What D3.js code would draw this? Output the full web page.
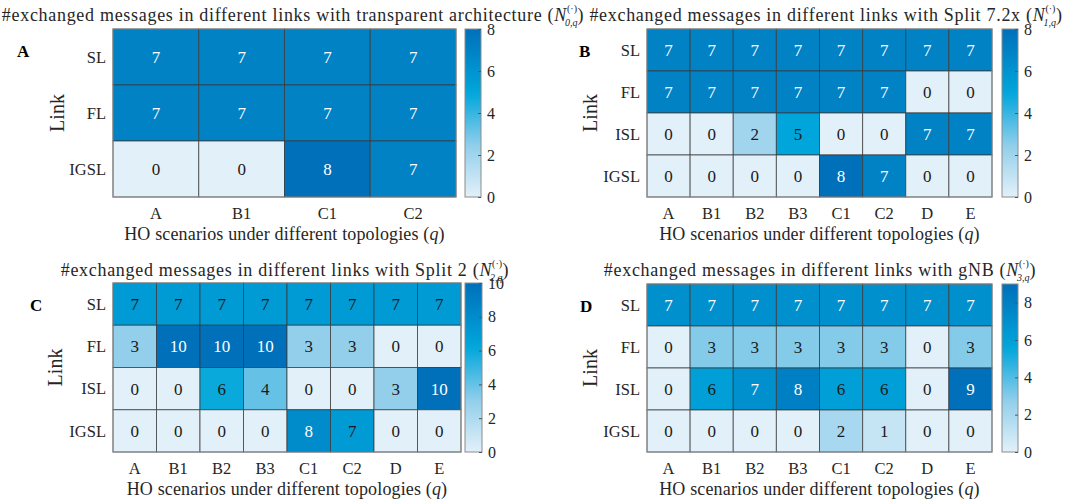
<!DOCTYPE html>
<html>
<head>
<meta charset="utf-8">
<script src="https://cdn.jsdelivr.net/npm/d3@7"></script>
<style>
  body { margin: 0; background: #fff; }
  text { font-family: "Liberation Serif", "DejaVu Serif", serif; fill: #262626; }
</style>
</head>
<body>
<div id="chart"></div>
<script>
// data
const rowsA = ['SL', 'FL', 'IGSL'];
const colsA = ['A', 'B1', 'C1', 'C2'];
const valuesA = [
  [7, 7, 7, 7],
  [7, 7, 7, 7],
  [0, 0, 8, 7]
];

const rowsFull = ['SL', 'FL', 'ISL', 'IGSL'];
const colsFull = ['A', 'B1', 'B2', 'B3', 'C1', 'C2', 'D', 'E'];

const valuesB = [
  [7, 7, 7, 7, 7, 7, 7, 7],
  [7, 7, 7, 7, 7, 7, 0, 0],
  [0, 0, 2, 5, 0, 0, 7, 7],
  [0, 0, 0, 0, 8, 7, 0, 0]
];
const valuesC = [
  [7, 7, 7, 7, 7, 7, 7, 7],
  [3, 10, 10, 10, 3, 3, 0, 0],
  [0, 0, 6, 4, 0, 0, 3, 10],
  [0, 0, 0, 0, 8, 7, 0, 0]
];
const valuesD = [
  [7, 7, 7, 7, 7, 7, 7, 7],
  [0, 3, 3, 3, 3, 3, 0, 3],
  [0, 6, 7, 8, 6, 6, 0, 9],
  [0, 0, 0, 0, 2, 1, 0, 0]
];

const ticksA = [0, 2, 4, 6, 8];
const ticksB = [0, 2, 4, 6, 8];
const ticksC = [0, 2, 4, 6, 8, 10];
const ticksD = [0, 2, 4, 6, 8];

const titleA = '#exchanged messages in different links with transparent architecture';
const titleB = '#exchanged messages in different links with Split 7.2x';
const titleC = '#exchanged messages in different links with Split 2';
const titleD = '#exchanged messages in different links with gNB';

const xLabel = 'HO scenarios under different topologies';
const yLabel = 'Link';

const width = 1065, height = 500;

const svg = d3.select('#chart').append('svg')
  .attr('width', width)
  .attr('height', height);

const defs = svg.append('defs');

// colormap similar to the MATLAB heatmap default
const cmap = d3.scaleLinear()
  .domain([0, 0.3, 0.62, 1])
  .range(['#e2f0f9', '#93cfeb', '#00a6db', '#0070ba'])
  .interpolate(d3.interpolateRgb)
  .clamp(true);

const panels = [
  { id: 'A', rows: rowsA, cols: colsA, values: valuesA, max: 8, ticks: ticksA, title: titleA, sub: '0,q',
    x0: 113, x1: 456, y0: 29, y1: 197, cx0: 465, cx1: 481, titleX: 293, titleY: 21, letterX: 17, linkX: 57 },
  { id: 'B', rows: rowsFull, cols: colsFull, values: valuesB, max: 8, ticks: ticksB, title: titleB, sub: '1,q',
    x0: 647, x1: 992, y0: 29, y1: 197, cx0: 1002, cx1: 1018, titleX: 826, titleY: 21, letterX: 579, linkX: 590 },
  { id: 'C', rows: rowsFull, cols: colsFull, values: valuesC, max: 10, ticks: ticksC, title: titleC, sub: '2,q',
    x0: 113, x1: 461, y0: 283, y1: 452, cx0: 465, cx1: 482, titleX: 285, titleY: 276, letterX: 30, linkX: 55 },
  { id: 'D', rows: rowsFull, cols: colsFull, values: valuesD, max: 9, ticks: ticksD, title: titleD, sub: '3,q',
    x0: 647, x1: 992, y0: 284, y1: 452, cx0: 1002, cx1: 1018, titleX: 820, titleY: 276, letterX: 580, linkX: 590 }
];

panels.forEach(p => drawPanel(p));

function drawPanel(p) {
  const g = svg.append('g');

  const x = d3.scaleBand().domain(p.cols).range([p.x0, p.x1]);
  const y = d3.scaleBand().domain(p.rows).range([p.y0, p.y1]);
  const c = d3.scaleLinear().domain([0, p.max]).range([0, 1]);

  // cells
  const cells = [];
  p.rows.forEach((r, i) => p.cols.forEach((col, j) => cells.push({ r, col, v: p.values[i][j] })));

  g.selectAll('rect.cell')
    .data(cells)
    .join('rect')
    .attr('class', 'cell')
    .attr('x', d => x(d.col))
    .attr('y', d => y(d.r))
    .attr('width', x.bandwidth())
    .attr('height', y.bandwidth())
    .attr('fill', d => cmap(c(d.v)))
    .attr('stroke', '#3a3a3a')
    .attr('stroke-opacity', 0.75)
    .attr('stroke-width', 1);

  g.selectAll('text.val')
    .data(cells)
    .join('text')
    .attr('class', 'val')
    .attr('x', d => x(d.col) + x.bandwidth() / 2)
    .attr('y', d => y(d.r) + y.bandwidth() / 2)
    .attr('dy', '0.35em')
    .attr('text-anchor', 'middle')
    .attr('font-size', '17px')
    .style('fill', d => c(d.v) > 0.72 ? '#ffffff' : '#1a1a1a')
    .text(d => d.v);

  // heatmap border
  g.append('rect')
    .attr('x', p.x0).attr('y', p.y0)
    .attr('width', p.x1 - p.x0).attr('height', p.y1 - p.y0)
    .attr('fill', 'none')
    .attr('stroke', '#8c8c8c')
    .attr('stroke-width', 1);

  // row labels
  g.selectAll('text.row')
    .data(p.rows)
    .join('text')
    .attr('class', 'row')
    .attr('x', p.x0 - 7)
    .attr('y', d => y(d) + y.bandwidth() / 2)
    .attr('dy', '0.35em')
    .attr('text-anchor', 'end')
    .attr('font-size', '16.5px')
    .text(d => d);

  // column labels
  g.selectAll('text.col')
    .data(p.cols)
    .join('text')
    .attr('class', 'col')
    .attr('x', d => x(d) + x.bandwidth() / 2)
    .attr('y', p.y1 + 22)
    .attr('text-anchor', 'middle')
    .attr('font-size', '16.5px')
    .text(d => d);

  // x axis label
  const xl = g.append('text')
    .attr('x', (p.x0 + p.x1) / 2)
    .attr('y', p.y1 + 43)
    .attr('text-anchor', 'middle')
    .attr('font-size', '18px')
    .attr('letter-spacing', '0.15px')
    .text(xLabel + ' (');
  xl.append('tspan').attr('font-style', 'italic').text('q');
  xl.append('tspan').text(')');

  // y axis label
  g.append('text')
    .attr('transform', `translate(${p.linkX},${(p.y0 + p.y1) / 2}) rotate(-90)`)
    .attr('text-anchor', 'middle')
    .attr('dy', '0.35em')
    .attr('font-size', '20px')
    .text(yLabel);

  // title with math
  const t = g.append('text')
    .attr('x', p.titleX)
    .attr('y', p.titleY)
    .attr('text-anchor', 'middle')
    .attr('font-size', '18px')
    .attr('letter-spacing', '0.7px')
    .text(p.title + ' (');
  t.append('tspan').attr('font-style', 'italic').text('N');
  t.append('tspan').attr('font-size', '10px').attr('letter-spacing', '0px').attr('dy', '-9').text('(·)');
  t.append('tspan').attr('font-size', '10px').attr('letter-spacing', '0px').attr('dx', '-12').attr('dy', '14').attr('font-style', 'italic').text(p.sub);
  t.append('tspan').attr('dy', '-5').text(')');

  // panel letter
  g.append('text')
    .attr('x', p.letterX)
    .attr('y', p.y0 + 28)
    .attr('font-size', '17px')
    .attr('font-weight', 'bold')
    .style('fill', '#000')
    .text(p.id);

  // colorbar
  const gid = 'grad' + p.id;
  const grad = defs.append('linearGradient')
    .attr('id', gid)
    .attr('x1', 0).attr('y1', 1).attr('x2', 0).attr('y2', 0);
  d3.range(0, 1.0001, 0.05).forEach(s => {
    grad.append('stop').attr('offset', s).attr('stop-color', cmap(s));
  });

  g.append('rect')
    .attr('x', p.cx0).attr('y', p.y0)
    .attr('width', p.cx1 - p.cx0).attr('height', p.y1 - p.y0)
    .attr('fill', `url(#${gid})`)
    .attr('stroke', '#8c8c8c')
    .attr('stroke-width', 1);

  const cy = d3.scaleLinear().domain([0, p.max]).range([p.y1, p.y0]);
  const axis = d3.axisRight(cy)
    .tickValues(p.ticks)
    .tickSize(3)
    .tickPadding(6)
    .tickFormat(d3.format('d'));

  const ag = g.append('g')
    .attr('transform', `translate(${p.cx1 - 3},0)`)
    .call(axis);
  ag.select('.domain').remove();
  ag.selectAll('.tick line').attr('stroke', '#555');
  ag.selectAll('.tick text')
    .attr('font-size', '16px')
    .attr('font-family', '"Liberation Serif", serif')
    .attr('x', 9)
    .style('fill', '#262626');
}
</script>
</body>
</html>
